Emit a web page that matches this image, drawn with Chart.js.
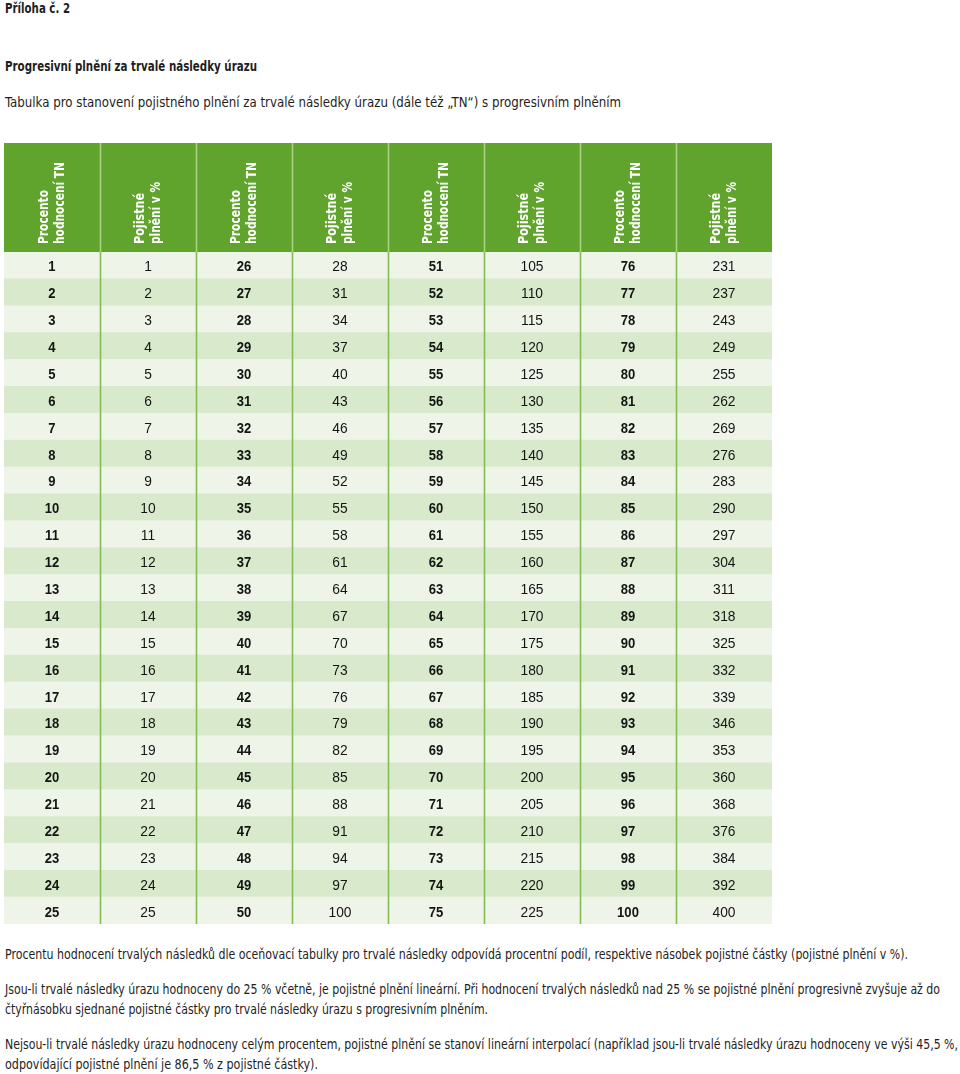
<!DOCTYPE html>
<html lang="cs">
  <head>
    <meta charset="UTF-8" />
    <title>Progresivní plnění za trvalé následky úrazu</title>
    <script src="https://cdn.jsdelivr.net/npm/chart.js@4.4.1/dist/chart.umd.min.js"></script>
    <style>
      body {
        margin: 0;
        width: 960px;
        height: 1074px;
        position: relative;
        background: #ffffff;
        color: #1e1e1e;
        font-family: "DejaVu Sans Condensed", "DejaVu Sans", sans-serif;
        font-size: 14px;
        overflow: hidden;
      }
      .txt {
        position: absolute;
        left: 5px;
        margin: 0;
        white-space: nowrap;
        line-height: 20px;
        display: inline-block;
        transform-origin: 0 0;
      }
      .bold {
        font-weight: bold;
      }
      #table-box {
        position: absolute;
        left: 4px;
        top: 143px;
        width: 768px;
        height: 781px;
      }
    </style>
  </head>
  <body>
    <span class="txt bold" style="top: -2px" data-w="65">Příloha č. 2</span>
    <span class="txt bold" style="top: 56px" data-w="252">Progresivní plnění za trvalé následky úrazu</span>
    <span class="txt" style="top: 92px" data-w="616">Tabulka pro stanovení pojistného plnění za trvalé následky úrazu (dále též „TN“) s progresivním plněním</span>

    <div id="table-box"><canvas id="tableChart"></canvas></div>

    <span class="txt" style="top: 944px" data-w="903">Procentu hodnocení trvalých následků dle oceňovací tabulky pro trvalé následky odpovídá procentní podíl, respektive násobek pojistné částky (pojistné plnění v %).</span>
    <span class="txt" style="top: 979px" data-w="935">Jsou-li trvalé následky úrazu hodnoceny do 25 % včetně, je pojistné plnění lineární. Při hodnocení trvalých následků nad 25 % se pojistné plnění progresivně zvyšuje až do</span>
    <span class="txt" style="top: 999px" data-w="483">čtyřnásobku sjednané pojistné částky pro trvalé následky úrazu s progresivním plněním.</span>
    <span class="txt" style="top: 1034px" data-w="953">Nejsou-li trvalé následky úrazu hodnoceny celým procentem, pojistné plnění se stanoví lineární interpolací (například jsou-li trvalé následky úrazu hodnoceny ve výši 45,5 %,</span>
    <span class="txt" style="top: 1054px" data-w="313">odpovídající pojistné plnění je 86,5 % z pojistné částky).</span>

    <script>
      // squeeze the text lines to the width they have in the original
      document.querySelectorAll(".txt").forEach((el) => {
        const w = el.getBoundingClientRect().width;
        el.style.transform = "scaleX(" + el.dataset.w / w + ")";
      });

      // table values, read column by column
      const headerTN = ["Procento", "hodnocení TN"];
      const headerPlneni = ["Pojistné", "plnění v %"];

      const tn1 = [1, 2, 3, 4, 5, 6, 7, 8, 9, 10, 11, 12, 13, 14, 15, 16, 17, 18, 19, 20, 21, 22, 23, 24, 25];
      const plneni1 = [1, 2, 3, 4, 5, 6, 7, 8, 9, 10, 11, 12, 13, 14, 15, 16, 17, 18, 19, 20, 21, 22, 23, 24, 25];
      const tn2 = [26, 27, 28, 29, 30, 31, 32, 33, 34, 35, 36, 37, 38, 39, 40, 41, 42, 43, 44, 45, 46, 47, 48, 49, 50];
      const plneni2 = [28, 31, 34, 37, 40, 43, 46, 49, 52, 55, 58, 61, 64, 67, 70, 73, 76, 79, 82, 85, 88, 91, 94, 97, 100];
      const tn3 = [51, 52, 53, 54, 55, 56, 57, 58, 59, 60, 61, 62, 63, 64, 65, 66, 67, 68, 69, 70, 71, 72, 73, 74, 75];
      const plneni3 = [105, 110, 115, 120, 125, 130, 135, 140, 145, 150, 155, 160, 165, 170, 175, 180, 185, 190, 195, 200, 205, 210, 215, 220, 225];
      const tn4 = [76, 77, 78, 79, 80, 81, 82, 83, 84, 85, 86, 87, 88, 89, 90, 91, 92, 93, 94, 95, 96, 97, 98, 99, 100];
      const plneni4 = [231, 237, 243, 249, 255, 262, 269, 276, 283, 290, 297, 304, 311, 318, 325, 332, 339, 346, 353, 360, 368, 376, 384, 392, 400];

      const columns = [tn1, plneni1, tn2, plneni2, tn3, plneni3, tn4, plneni4];

      const HEADER_H = 109;
      const GREEN = "#61a42d";
      const ROW_LIGHT = "#eef5e8";
      const ROW_DARK = "#d9eacc";
      const HEAD_FONT = "'DejaVu Sans Condensed', 'DejaVu Sans', sans-serif";
      const NUM_FONT = "'Liberation Sans', Arial, sans-serif";

      // every cell is one stacked bar segment of width 1
      const datasets = columns.map((col, c) => ({
        label: "col" + c,
        data: col.map(() => 1),
        backgroundColor: col.map((v, r) => (r % 2 === 0 ? ROW_LIGHT : ROW_DARK)),
        borderWidth: 0,
        barPercentage: 1,
        categoryPercentage: 1,
      }));

      const tablePlugin = {
        id: "tablePlugin",
        beforeDatasetsDraw(chart) {
          const { ctx, chartArea } = chart;
          // header background
          ctx.save();
          ctx.fillStyle = GREEN;
          ctx.fillRect(chartArea.left, chartArea.top - HEADER_H, chartArea.right - chartArea.left, HEADER_H);
          ctx.restore();
        },
        afterDatasetsDraw(chart) {
          const { ctx, chartArea, scales } = chart;
          const x = scales.x;
          ctx.save();

          // column separators
          for (let c = 1; c < columns.length; c++) {
            const px = Math.round(x.getPixelForValue(c)) + 0.5;
            ctx.lineWidth = 1.6;
            ctx.strokeStyle = "#a8d180";
            ctx.beginPath();
            ctx.moveTo(px, chartArea.top - HEADER_H);
            ctx.lineTo(px, chartArea.top);
            ctx.stroke();
            ctx.strokeStyle = "#85bb52";
            ctx.beginPath();
            ctx.moveTo(px, chartArea.top);
            ctx.lineTo(px, chartArea.bottom);
            ctx.stroke();
          }

          // header text, rotated
          ctx.fillStyle = "#ffffff";
          ctx.font = "bold 14.5px " + HEAD_FONT;
          ctx.textAlign = "left";
          ctx.textBaseline = "middle";
          columns.forEach((col, c) => {
            const tnCol = c % 2 === 0;
            const lines = tnCol ? headerTN : headerPlneni;
            const widths = tnCol ? [54, 82] : [51, 62];
            const cx = x.getPixelForValue(c + 0.5);
            ctx.save();
            ctx.translate(cx, chartArea.top - 8);
            ctx.rotate(-Math.PI / 2);
            ctx.fillText(lines[0], 0, -8, widths[0]);
            ctx.fillText(lines[1], 0, 8, widths[1]);
            ctx.restore();
          });

          // cell values
          ctx.fillStyle = "#141414";
          ctx.textAlign = "center";
          ctx.textBaseline = "alphabetic";
          columns.forEach((col, c) => {
            const meta = chart.getDatasetMeta(c);
            const bold = c % 2 === 0;
            ctx.font = (bold ? "bold " : "") + "15px " + NUM_FONT;
            const squeeze = bold ? 0.87 : 0.92;
            meta.data.forEach((bar, r) => {
              const cx = (bar.x + bar.base) / 2;
              ctx.save();
              ctx.translate(cx, bar.y + 6);
              ctx.scale(squeeze, 1);
              ctx.fillText(String(col[r]), 0, 0);
              ctx.restore();
            });
          });
          ctx.restore();
        },
      };

      const ctx = document.getElementById("tableChart").getContext("2d");
      new Chart(ctx, {
        type: "bar",
        data: {
          labels: tn1.map(String),
          datasets: datasets,
        },
        options: {
          indexAxis: "y",
          responsive: true,
          maintainAspectRatio: false,
          animation: false,
          layout: { padding: { top: HEADER_H, left: 0, right: 0, bottom: 0 } },
          plugins: {
            legend: { display: false },
            tooltip: { enabled: false },
          },
          scales: {
            x: { display: false, stacked: true, min: 0, max: 8 },
            y: { display: false, stacked: true },
          },
        },
        plugins: [tablePlugin],
      });
    </script>
  </body>
</html>
